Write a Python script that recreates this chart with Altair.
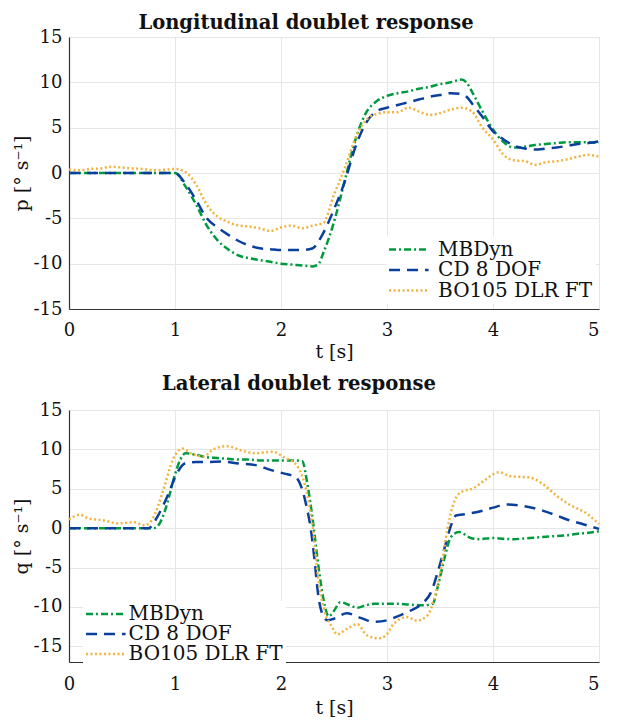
import altair as alt
import pandas as pd

SERIES = ["MBDyn", "CD 8 DOF", "BO105 DLR FT"]
COLORS = ["#009a3e", "#0b3f9e", "#f2b23e"]
DASHES = [[7, 3, 2, 3], [11, 7], [2, 2.5]]

# ---------- Longitudinal doublet response (p) ----------
lon_mb_t = [0, 0.5, 1.0, 1.1, 1.2, 1.3, 1.4, 1.5, 1.6, 1.7, 1.8, 1.9, 2.0, 2.1, 2.2, 2.3, 2.35, 2.4, 2.5,
            2.6, 2.7, 2.8, 2.9, 3.0, 3.1, 3.2, 3.3, 3.4, 3.5, 3.6, 3.7, 3.75, 3.8, 3.9, 4.0, 4.1, 4.2, 4.3,
            4.4, 4.5, 4.6, 4.7, 4.8, 4.9, 5.0]
lon_mb_v = [0, 0, 0, -1.5, -3.5, -5.8, -7.4, -8.4, -9.1, -9.4, -9.6, -9.8, -10.0, -10.1, -10.2, -10.3, -10.1,
            -8.8, -5.4, -0.9, 3.6, 6.6, 7.9, 8.5, 8.8, 9.0, 9.3, 9.5, 9.8, 10.0, 10.3, 10.0, 9.0, 6.8, 4.8,
            3.4, 2.8, 2.9, 3.1, 3.2, 3.3, 3.4, 3.4, 3.4, 3.3]

lon_cd_t = [0, 0.5, 1.0, 1.1, 1.2, 1.3, 1.4, 1.5, 1.6, 1.7, 1.8, 1.9, 2.0, 2.1, 2.2, 2.3, 2.35, 2.4, 2.5,
            2.6, 2.7, 2.8, 2.9, 3.0, 3.1, 3.2, 3.3, 3.4, 3.5, 3.6, 3.7, 3.76, 3.8, 3.9, 4.0, 4.1, 4.2, 4.3,
            4.4, 4.5, 4.6, 4.7, 4.8, 4.9, 5.0]
lon_cd_v = [0, 0, 0, -1.2, -3.0, -5.0, -6.0, -6.8, -7.5, -8.0, -8.3, -8.4, -8.5, -8.5, -8.5, -8.3, -7.6,
            -6.6, -4.0, -1.0, 2.8, 5.5, 6.8, 7.2, 7.5, 7.8, 8.1, 8.4, 8.6, 8.8, 8.7, 8.3, 7.7, 6.2, 4.6,
            3.7, 3.0, 2.7, 2.6, 2.7, 2.8, 3.0, 3.2, 3.3, 3.5]

lon_ft_t = [0, 0.1, 0.2, 0.3, 0.4, 0.5, 0.6, 0.7, 0.8, 0.9, 1.0, 1.1, 1.2, 1.3, 1.4, 1.5, 1.6, 1.7, 1.8,
            1.9, 2.0, 2.1, 2.2, 2.3, 2.4, 2.5, 2.6, 2.7, 2.8, 2.9, 3.0, 3.1, 3.2, 3.3, 3.4, 3.5, 3.6, 3.7,
            3.8, 3.9, 4.0, 4.1, 4.2, 4.3, 4.4, 4.5, 4.6, 4.7, 4.8, 4.9, 5.0]
lon_ft_v = [0.4, 0.3, 0.45, 0.5, 0.7, 0.6, 0.5, 0.45, 0.3, 0.35, 0.45, 0.1, -1.3, -3.5, -4.8, -5.4, -5.8,
            -5.9, -6.1, -6.4, -6.0, -5.8, -6.1, -5.8, -5.5, -2.4, 0.5, 3.8, 5.8, 6.5, 6.7, 6.7, 7.2, 6.8,
            6.4, 6.6, 7.0, 7.2, 6.8, 5.0, 3.7, 2.0, 1.4, 1.3, 0.9, 1.2, 1.3, 1.5, 1.8, 2.0, 1.8]

# ---------- Lateral doublet response (q) ----------
lat_mb_t = [0, 0.5, 0.8, 0.85, 0.9, 0.95, 1.0, 1.05, 1.1, 1.2, 1.3, 1.4, 1.5, 1.6, 1.7, 1.8, 1.9, 2.0,
            2.1, 2.2, 2.25, 2.3, 2.35, 2.4, 2.45, 2.5, 2.56, 2.65, 2.72, 2.8, 2.88, 3.0, 3.1, 3.2, 3.35,
            3.43, 3.49, 3.55, 3.6, 3.68, 3.79, 3.87, 4.0, 4.1, 4.2, 4.3, 4.4, 4.5, 4.6, 4.7, 4.8, 4.9, 5.0]
lat_mb_v = [0, 0, 0, 0.5, 2.0, 4.3, 6.8, 8.7, 9.5, 9.3, 9.0, 8.9, 8.8, 8.7, 8.7, 8.6, 8.6, 8.6, 8.6, 8.5,
            5.5, 1.0, -4.5, -9.0, -11.2, -10.5, -9.4, -9.8, -10.1, -9.8, -9.6, -9.6, -9.6, -9.7, -9.8,
            -9.6, -6.8, -3.4, -1.2, -0.5, -1.25, -1.4, -1.25, -1.35, -1.4, -1.3, -1.2, -1.1, -1.0, -0.9,
            -0.7, -0.6, -0.4]

lat_cd_t = [0, 0.5, 0.75, 0.84, 0.93, 1.02, 1.1, 1.2, 1.3, 1.45, 1.6, 1.76, 1.9, 2.07, 2.13, 2.2, 2.24,
            2.28, 2.32, 2.35, 2.39, 2.44, 2.5, 2.62, 2.75, 2.88, 3.0, 3.1, 3.2, 3.32, 3.42, 3.48, 3.55,
            3.6, 3.65, 3.75, 3.9, 4.0, 4.13, 4.29, 4.45, 4.6, 4.72, 4.85, 5.0]
lat_cd_v = [0, 0, 0, 1.6, 4.1, 7.0, 8.25, 8.4, 8.4, 8.45, 8.2, 8.0, 7.4, 6.8, 6.6, 4.9, 2.8, 0, -4.5,
            -8.4, -10.9, -11.7, -11.5, -10.8, -11.4, -11.9, -11.7, -11.2, -10.6, -9.7, -8.0, -5.5, -2.2,
            0.2, 1.6, 1.8, 2.2, 2.6, 3.0, 2.8, 2.3, 1.6, 1.0, 0.5, -0.1]

lat_ft_t = [0, 0.1, 0.19, 0.32, 0.47, 0.62, 0.71, 0.78, 0.84, 0.9, 0.98, 1.07, 1.15, 1.27, 1.36, 1.49,
            1.64, 1.76, 1.92, 2.04, 2.13, 2.2, 2.25, 2.3, 2.35, 2.41, 2.48, 2.53, 2.62, 2.72, 2.81, 2.92,
            2.99, 3.06, 3.19, 3.28, 3.38, 3.44, 3.51, 3.57, 3.62, 3.69, 3.82, 3.91, 4.06, 4.16, 4.35,
            4.48, 4.6, 4.72, 4.89, 5.0]
lat_ft_v = [1.1, 1.7, 1.2, 1.0, 0.6, 0.75, 0.35, 1.0, 2.8, 5.3, 8.7, 10.1, 9.5, 9.1, 10.0, 10.4, 9.8, 9.5,
            9.7, 8.9, 8.25, 6.6, 4.1, 0, -6.3, -10.5, -12.5, -13.5, -12.8, -12.2, -13.6, -14.0, -13.6,
            -12.2, -11.3, -11.75, -11.1, -9.25, -5.1, -0.1, 2.8, 4.5, 5.1, 5.96, 7.1, 6.6, 6.4, 5.5, 4.1,
            3.0, 1.8, 0.5]

X_TICKS = [0, 1, 2, 3, 4, 5]
Y_TICKS = [-15, -10, -5, 0, 5, 10, 15]


def frame(pairs):
    rows = []
    for order, (name, ts, vs) in enumerate(pairs):
        for t, v in zip(ts, vs):
            rows.append({"series": name, "order": order, "t": t, "v": v})
    return pd.DataFrame(rows)


lon_df = frame([("MBDyn", lon_mb_t, lon_mb_v), ("CD 8 DOF", lon_cd_t, lon_cd_v),
                ("BO105 DLR FT", lon_ft_t, lon_ft_v)])
lat_df = frame([("MBDyn", lat_mb_t, lat_mb_v), ("CD 8 DOF", lat_cd_t, lat_cd_v),
                ("BO105 DLR FT", lat_ft_t, lat_ft_v)])

SERIF = "DejaVu Serif"


def legend(lx, ly, gap, rowpad):
    return alt.Legend(
        title=None, orient="none", legendX=lx, legendY=ly,
        symbolType="M-2.26,0H2.26", symbolSize=306, symbolStrokeWidth=2.5,
        symbolOffset=9.8, labelOffset=9.8 + gap,
        labelFont=SERIF, labelFontSize=20, labelColor="#111111",
        fillColor="white", padding=3, rowPadding=rowpad,
    )


def panel(df, title, tsize, tdx, toff, ytitle, ydom, h, lx, ly, gap, rowpad, xlp, xtp):
    leg = legend(lx, ly, gap, rowpad)
    return alt.Chart(df, title=alt.Title(title, offset=toff, frame="group", dx=tdx, fontSize=tsize)).mark_line(
        strokeWidth=2.5, interpolate="monotone"
    ).encode(
        x=alt.X("t:Q", scale=alt.Scale(domain=[0, 5], nice=False),
                axis=alt.Axis(values=X_TICKS, title="t [s]", labelPadding=xlp, titlePadding=xtp,
                              labelAlign=alt.condition("datum.value == 5",
                                                       alt.value("right"), alt.value("center")))),
        y=alt.Y("v:Q", scale=alt.Scale(domain=ydom, nice=False, zero=False),
                axis=alt.Axis(values=Y_TICKS, title=ytitle, labelExpr="'' + datum.value")),
        color=alt.Color("series:N", scale=alt.Scale(domain=SERIES, range=COLORS), legend=leg),
        strokeDash=alt.StrokeDash("series:N", scale=alt.Scale(domain=SERIES, range=DASHES), legend=leg),
        order="order:Q",
    ).properties(width=530, height=h)


top = panel(lon_df, "Longitudinal doublet response", 19.5, -28, -5, "p [° s⁻¹]", [-15, 15], 272,
            317, 199.5, 9.5, 0.5, 12, 3)
bottom = panel(lat_df, "Lateral doublet response", 19.6, -35, 6, "q [° s⁻¹]", [-17, 15], 252,
               14, 191, 3, 0, 13, 5)

chart = alt.vconcat(top, bottom, spacing=11).resolve_scale(
    color="independent", strokeDash="independent", y="independent"
).properties(
    padding={"left": 3, "top": 4, "right": 0, "bottom": 0}
).configure_view(
    stroke="#d0d0d0"
).configure_axis(
    labelFont=SERIF, labelFontSize=18, labelColor="#111111", labelPadding=7,
    titleFont=SERIF, titleFontSize=19, titleFontWeight="normal", titleColor="#111111",
    grid=True, gridColor="#e6e6e6", gridWidth=1,
    domainColor="#333333", domainWidth=1.2, ticks=False, tickSize=0,
).configure_axisY(titlePadding=2).configure_title(
    font="DejaVu Serif", fontWeight="bold", color="#111111", anchor="middle"
)

chart.save("out.html", embed_options={"renderer": "svg", "actions": False})
